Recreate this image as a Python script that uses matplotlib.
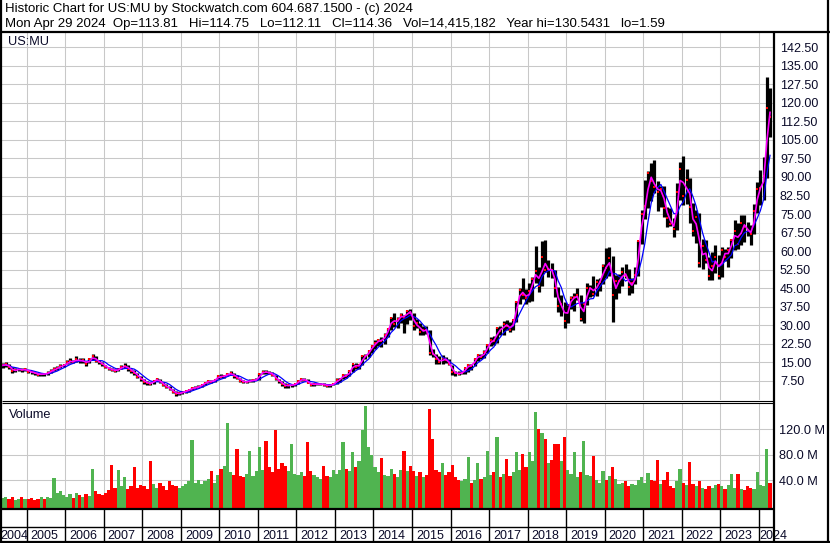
import numpy as np
import pandas as pd
import matplotlib
matplotlib.use("Agg")
import matplotlib.pyplot as plt
from matplotlib.lines import Line2D

plt.rcParams['font.family'] = ['Liberation Sans', 'DejaVu Sans']

W, H = 830, 543

# monthly bars, May 2004 .. Apr 2024 (one row per year)
close = [
    13.8, 14.2, 13.0, 11.5, 12.0, 12.3, 11.8, 12.3,
    11.2, 11.0, 10.6, 10.0, 10.4, 10.2, 10.8, 11.6, 12.2, 12.8, 13.6, 13.8,
    15.0, 15.6, 15.2, 16.4, 15.4, 15.8, 14.4, 16.2, 17.4, 15.6, 15.0, 14.2,
    13.0, 12.4, 12.0, 11.6, 12.2, 13.2, 13.6, 12.4, 11.6, 10.6, 9.2, 8.2,
    7.2, 6.6, 6.4, 7.6, 8.2, 7.0, 6.0, 5.0, 4.2, 3.2, 2.2, 2.5,
    3.0, 3.4, 4.0, 4.6, 4.8, 5.2, 6.0, 6.8, 7.4, 7.2, 8.0, 9.4,
    9.2, 9.6, 10.2, 10.6, 9.4, 8.8, 7.6, 7.0, 7.2, 7.6, 7.8, 8.0,
    10.4, 11.2, 11.0, 10.8, 10.0, 8.2, 7.4, 6.2, 5.4, 5.8, 5.8, 6.2,
    7.4, 8.2, 8.0, 6.8, 6.0, 6.2, 6.2, 6.2, 6.0, 5.6, 5.8, 6.4,
    7.8, 8.2, 10.0, 9.4, 11.6, 14.2, 13.2, 14.0, 17.4, 17.6, 19.6, 21.6,
    22.8, 24.2, 23.6, 26.2, 28.6, 33.0, 30.6, 32.6, 34.2, 33.0, 36.0, 35.0,
    29.6, 30.8, 27.2, 28.2, 28.0, 18.8, 18.4, 16.4, 15.0, 16.6, 16.0, 14.2,
    11.0, 10.6, 10.5, 10.8, 12.7, 13.8, 13.7, 16.4, 17.8, 17.2, 19.4, 21.9,
    24.2, 23.6, 28.8, 27.6, 30.6, 29.8, 28.2, 32.0, 39.4, 44.2, 42.4, 41.2,
    43.7, 48.8, 52.1, 46.0, 57.6, 52.4, 52.8, 52.3, 45.2, 37.7, 38.6, 31.7,
    38.2, 40.9, 41.3, 42.1, 32.6, 38.6, 44.9, 45.3, 42.8, 47.5, 47.5, 53.8,
    53.2, 57.4, 42.1, 47.9, 47.9, 51.5, 50.1, 45.5, 47.0, 50.3, 64.1, 75.2,
    78.3, 91.6, 88.2, 86.1, 84.1, 85.0, 77.6, 73.6, 71.0, 69.1, 84.0, 93.2,
    82.3, 88.8, 77.9, 68.2, 73.8, 55.3, 61.9, 56.5, 50.1, 54.1, 57.7, 50.0,
    60.3, 57.8, 60.3, 64.4, 68.2, 63.1, 71.4, 69.9, 68.0, 66.9, 76.1, 85.3,
    85.7, 90.6, 117.9, 114.4,
]
high = [
    14.8, 15.0, 14.5, 13.0, 12.6, 12.8, 12.6, 12.8,
    12.0, 11.6, 11.3, 10.8, 10.8, 10.8, 11.4, 12.2, 13.0, 13.4, 14.2, 14.4,
    15.8, 16.6, 16.0, 17.4, 16.6, 16.6, 15.6, 16.8, 18.6, 17.6, 15.8, 15.2,
    14.0, 13.3, 12.6, 12.4, 12.8, 14.0, 14.6, 13.8, 12.4, 11.8, 10.6, 9.4,
    8.4, 7.4, 7.0, 8.0, 8.8, 8.4, 7.2, 6.2, 5.4, 4.4, 3.4, 2.9,
    3.4, 3.8, 4.4, 5.0, 5.4, 5.8, 6.4, 7.2, 8.0, 7.8, 8.4, 10.0,
    10.4, 10.0, 10.6, 11.4, 10.8, 9.8, 8.8, 7.8, 7.6, 8.2, 8.2, 8.8,
    10.8, 12.0, 11.8, 11.6, 11.2, 10.0, 8.4, 7.6, 6.6, 6.4, 6.4, 6.8,
    7.8, 8.8, 8.6, 8.2, 6.8, 6.6, 6.8, 6.8, 6.6, 6.2, 6.2, 6.8,
    8.6, 8.8, 10.2, 10.2, 12.0, 14.4, 14.6, 14.4, 17.8, 18.4, 20.0, 22.0,
    24.0, 24.6, 25.4, 26.8, 29.0, 33.4, 34.8, 33.4, 34.8, 34.0, 36.4, 36.6,
    35.0, 32.6, 31.0, 29.6, 29.6, 28.2, 20.6, 18.6, 17.6, 17.8, 17.2, 16.4,
    14.0, 11.4, 11.6, 11.4, 12.9, 14.2, 14.2, 16.6, 18.4, 18.4, 20.0, 22.6,
    25.2, 25.6, 29.2, 29.8, 31.8, 32.0, 31.2, 32.2, 40.0, 45.0, 49.0, 44.6,
    47.2, 49.4, 62.2, 53.6, 64.0, 64.6, 56.6, 55.2, 52.2, 45.6, 42.4, 39.6,
    38.8, 42.0, 43.2, 45.0, 42.4, 39.0, 47.2, 46.4, 50.0, 48.6, 49.0, 55.0,
    61.2, 61.6, 58.0, 50.2, 50.8, 53.6, 55.0, 52.8, 49.2, 53.6, 64.2, 76.8,
    88.8, 92.4, 95.8, 96.9, 88.4, 86.2, 86.2, 77.8, 77.6, 73.4, 87.6, 96.0,
    98.4, 93.2, 89.6, 79.6, 76.6, 75.6, 65.0, 64.4, 57.8, 59.8, 62.4, 58.6,
    61.8, 61.0, 61.6, 65.0, 72.6, 71.4, 74.6, 74.8, 71.6, 70.6, 79.2, 87.8,
    93.0, 98.2, 130.5, 126.0,
]
low = [
    12.8, 13.2, 12.2, 10.8, 11.2, 11.5, 11.2, 11.6,
    10.8, 10.5, 10.1, 9.4, 9.7, 9.6, 10.0, 10.8, 11.5, 12.1, 12.7, 13.1,
    14.2, 14.8, 14.6, 15.2, 14.6, 14.8, 13.6, 14.6, 16.0, 15.0, 14.2, 13.6,
    12.6, 12.0, 11.4, 11.0, 11.6, 12.2, 12.6, 11.6, 10.8, 10.0, 8.8, 7.6,
    6.4, 6.0, 5.8, 6.4, 7.6, 6.8, 5.6, 4.6, 3.8, 2.6, 1.6, 1.9,
    2.4, 2.8, 3.2, 3.8, 4.3, 4.6, 5.2, 6.0, 6.8, 6.6, 7.0, 8.2,
    8.6, 8.8, 9.4, 10.0, 8.8, 8.2, 7.2, 6.6, 6.6, 7.0, 7.2, 7.8,
    8.0, 10.4, 10.2, 10.2, 9.6, 7.8, 6.8, 5.6, 4.8, 4.8, 5.2, 5.6,
    6.2, 7.4, 7.6, 6.6, 5.6, 5.6, 5.8, 5.8, 5.6, 5.2, 5.2, 5.8,
    6.3, 7.2, 8.2, 8.6, 9.6, 11.2, 12.2, 12.4, 13.8, 16.2, 17.0, 19.0,
    20.4, 21.6, 21.4, 22.4, 25.4, 28.2, 29.4, 29.0, 31.0, 27.0, 30.6, 32.0,
    28.0, 28.8, 26.2, 26.2, 26.6, 18.2, 17.0, 14.2, 14.2, 14.4, 14.6, 13.8,
    10.0, 9.4, 9.8, 10.2, 10.4, 11.0, 12.0, 13.6, 15.6, 16.4, 16.6, 19.0,
    21.8, 22.2, 23.0, 26.2, 26.0, 28.2, 27.4, 28.0, 31.2, 38.8, 40.8, 38.6,
    39.6, 40.0, 47.2, 43.6, 46.0, 51.6, 49.4, 49.0, 41.6, 35.4, 33.6, 29.0,
    30.8, 36.6, 35.6, 40.4, 31.6, 31.0, 38.2, 41.6, 42.0, 41.8, 44.0, 46.8,
    49.0, 49.8, 31.2, 40.6, 43.0, 45.8, 49.2, 42.4, 43.0, 46.6, 50.0, 62.8,
    73.0, 77.6, 80.2, 83.4, 76.4, 77.8, 74.0, 69.6, 70.0, 65.6, 68.4, 80.8,
    78.6, 79.0, 71.2, 66.2, 63.4, 53.6, 52.6, 55.4, 48.5, 48.4, 51.0, 48.6,
    49.6, 56.0, 53.6, 57.2, 60.6, 61.0, 62.6, 63.8, 66.0, 62.4, 66.8, 75.6,
    78.6, 80.6, 89.4, 106.0,
]
# volume in millions of shares
volume = [
    12, 14, 10, 13, 9, 11, 13, 10,
    10, 12, 9, 11, 13, 10, 14, 12, 43, 20, 22, 16,
    14, 18, 12, 20, 16, 13, 18, 15, 58, 22, 18, 16,
    20, 24, 63, 28, 56, 30, 44, 26, 30, 61, 28, 32,
    30, 26, 70, 34, 28, 36, 30, 24, 38, 32, 30, 28,
    30, 34, 38, 103, 36, 40, 34, 38, 42, 54, 36, 48,
    58, 62, 130, 52, 48, 88, 46, 44, 50, 86, 46, 54,
    92, 56, 101, 60, 52, 118, 58, 66, 62, 54, 97, 50,
    48, 52, 46, 99, 54, 48, 44, 42, 62, 46, 44, 55,
    50, 56, 100, 58, 54, 84, 60, 70, 118, 156, 92, 80,
    60, 52, 75, 48, 46, 58, 50, 44, 56, 85, 54, 62,
    54, 46, 52, 44, 48, 151, 104, 56, 52, 66, 48, 52,
    64, 44, 40, 38, 42, 76, 36, 40, 67, 42, 44, 86,
    48, 52, 108, 44, 50, 73, 46, 52, 84, 56, 81, 60,
    84, 70, 146, 120, 113, 104, 66, 72, 96, 97, 70, 107,
    56, 50, 84, 44, 52, 101, 48, 46, 77, 40, 36, 54,
    40, 46, 60, 42, 34, 36, 38, 30, 34, 32, 40, 44,
    36, 51, 40, 38, 72, 34, 40, 53, 30, 28, 38, 57,
    36, 32, 69, 34, 30, 38, 28, 26, 30, 28, 32, 34,
    30, 26, 32, 49, 28, 49, 26, 24, 30, 28, 26, 53,
    32, 30, 88, 36,
]

year_labels = [str(y) for y in range(2004, 2025)]
price_ticks = [7.5 * i for i in range(1, 20)]
vol_ticks = [40, 80, 120]

title1 = "Historic Chart for US:MU by Stockwatch.com 604.687.1500 - (c) 2024"
title2 = ("Mon Apr 29 2024  Op=113.81   Hi=114.75   Lo=112.11   Cl=114.36   "
          "Vol=14,415,182   Year hi=130.5431   lo=1.59")

dates = pd.date_range("2004-05-01", periods=len(close), freq="MS")
t = dates.year + (dates.month - 0.5) / 12
df = pd.DataFrame({"t": t, "close": close, "high": high, "low": low, "vol": volume})
df["ma_fast"] = df["close"].rolling(2, min_periods=1).mean()
df["ma_slow"] = df["close"].rolling(5, min_periods=1).mean()
up = df["close"].diff().fillna(0) >= 0


def fx(px):
    return px / W


def fy(py):
    return 1 - py / H


# year 2005 starts at px 26.7, one year = 38.53 px
xlim = (2005 + (2 - 26.7) / 38.53, 2005 + (774 - 26.7) / 38.53)
px_year = 38.53
grid_c = "#c8c8c8"
txt_c = "#0a0a28"

fig = plt.figure(figsize=(W / 100, H / 100), dpi=100)

# ---- price panel
ax = fig.add_axes([fx(2), fy(400), fx(774) - fx(2), fy(32) - fy(400)])
ax.set_xlim(xlim)
ax.set_ylim(-0.2, 148.65)
ax.set_xticks(range(2005, 2025))
ax.set_xticklabels([])
ax.set_yticks(price_ticks)
ax.set_yticklabels(["%.2f" % v for v in price_ticks])
ax.yaxis.tick_right()
ax.tick_params(length=0)
ax.tick_params(axis="y", pad=4.3, labelsize=9, labelcolor=txt_c)
ax.grid(True, color=grid_c, lw=0.75)
ax.set_axisbelow(True)
for s in ax.spines.values():
    s.set_visible(False)

ax.vlines(df["t"], df["low"], df["high"], color="black", lw=2.3)
ax.plot(df["t"], df["close"], "s", color="red", ms=1.7, mew=0)
ax.plot(df["t"], df["ma_slow"], color="#0000ff", lw=0.9)
ax.plot(df["t"], df["ma_fast"], color="#ff00ff", lw=1.2)
ax.text(6 / 772, 1 - 13 / 368, "US:MU", transform=ax.transAxes,
        fontsize=9.2, color=txt_c, va="baseline", ha="left")

# ---- volume panel
av = fig.add_axes([fx(2), fy(508), fx(774) - fx(2), fy(403) - fy(508)])
av.set_xlim(xlim)
av.set_ylim(-3.9, 160.8)
av.set_xticks(range(2005, 2025))
av.set_xticklabels([])
av.set_yticks(vol_ticks)
av.set_yticklabels(["%.1f M" % v for v in vol_ticks])
av.yaxis.tick_right()
av.tick_params(length=0)
av.tick_params(axis="y", pad=3.6, labelsize=9.2, labelcolor=txt_c)
av.grid(True, color=grid_c, lw=0.75)
av.set_axisbelow(True)
for s in av.spines.values():
    s.set_visible(False)
av.bar(df["t"], df["vol"] + 3.9, bottom=-3.9, width=1 / 12,
       color=np.where(up, "#50b450", "#ff0000"), lw=0)
av.text(7 / 772, 1 - 15.3 / 105, "Volume", transform=av.transAxes,
        fontsize=9.2, color=txt_c, va="baseline", ha="left")

# ---- date strip
ad = fig.add_axes([fx(2), fy(541), fx(774) - fx(2), fy(508) - fy(541)])
ad.set_xlim(xlim)
ad.set_ylim(0, 1)
ad.axis("off")
ad.vlines(range(2005, 2025), 0, 1, color="black", lw=1.0)
ad.axhline((541 - 527) / 33, color="black", lw=1.0)
for lab in year_labels:
    y0 = int(lab)
    clip = True
    if y0 == 2004:
        xpos = xlim[0] - 1.5 / px_year
    elif y0 == 2024:
        xpos = y0 + 0.2 / px_year
        clip = False
    else:
        xpos = y0 + 4 / px_year
    ad.text(xpos, (541 - 539.3) / 33, lab, fontsize=9, color=txt_c,
            ha="left", va="baseline", clip_on=clip)

# ---- frame lines (figure pixels)
def fline(x0, y0, x1, y1, lw):
    fig.add_artist(Line2D([fx(x0), fx(x1)], [fy(y0), fy(y1)], color="black",
                          lw=lw, transform=fig.transFigure, solid_capstyle="butt"))


fline(1, 0, 1, 543, 1.6)
fline(828, 0, 828, 543, 1.6)
fline(0, 31.5, 830, 31.5, 1.6)
fline(0, 541.5, 830, 541.5, 1.6)
fline(774, 32, 774, 542, 1.6)
fline(2, 400.5, 774, 400.5, 0.8)
fline(2, 402.5, 774, 402.5, 0.8)
fline(2, 508.5, 774, 508.5, 1.6)

fig.text(fx(5), fy(12.4), title1, fontsize=9.5, color="black", va="baseline", ha="left")
fig.text(fx(5), fy(26.8), title2, fontsize=9.5, color="black", va="baseline", ha="left")

fig.savefig("out.png", dpi=100)
